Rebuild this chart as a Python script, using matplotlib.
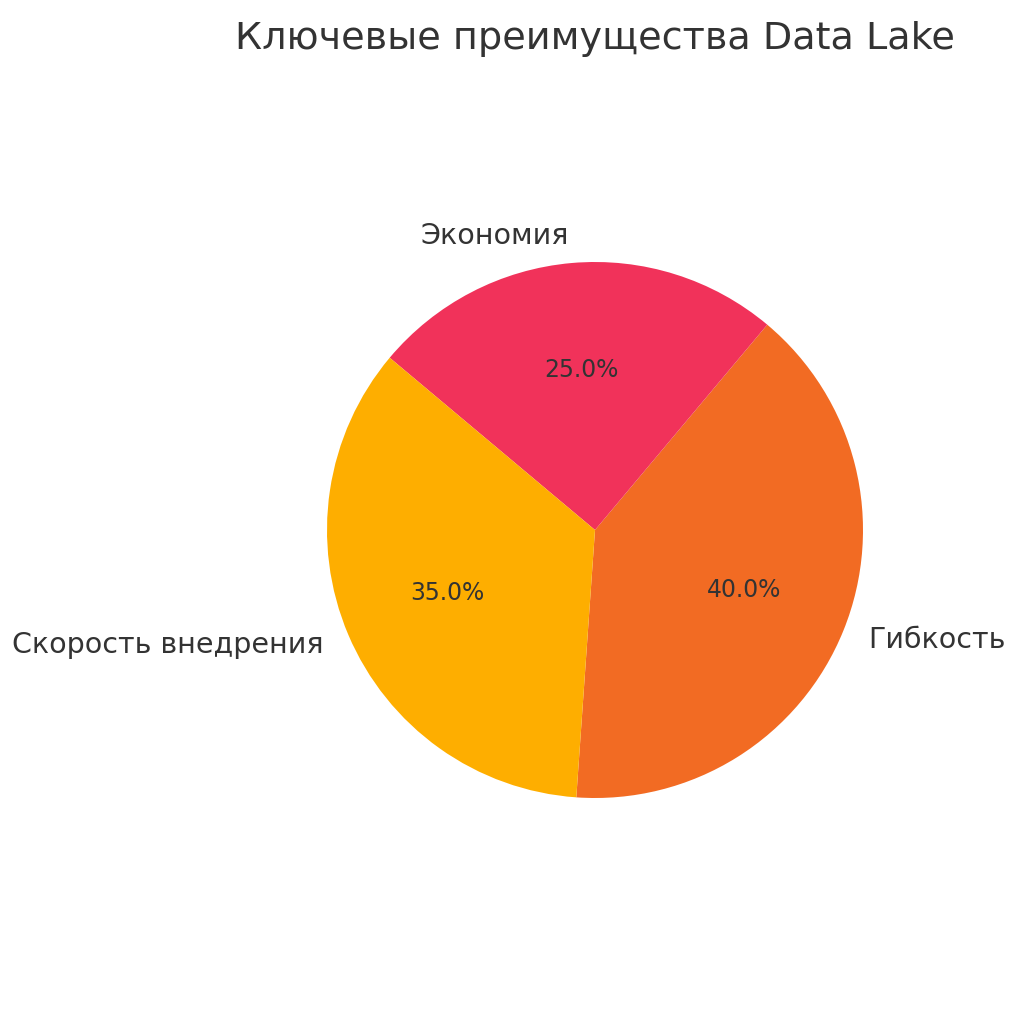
import matplotlib
matplotlib.use("Agg")
import matplotlib.pyplot as plt

labels = ['Гибкость', 'Экономия', 'Скорость внедрения']
shares = [40, 25, 35]
colors = ['#F26B23', '#F1325A', '#FEAE00']
title = 'Ключевые преимущества Data Lake'

text_color = '#333333'
plt.rcParams['font.family'] = 'DejaVu Sans'

dpi = 140
fig = plt.figure(figsize=(1024 / dpi, 1024 / dpi), dpi=dpi)

# pie centre at (595, 530) px, radius ~268 px
lim = 1.2
r_px = 268
side = 2 * lim * r_px
cx, cy = 595, 1024 - 530
ax = fig.add_axes([(cx - side / 2) / 1024, (cy - side / 2) / 1024, side / 1024, side / 1024])

wedges, texts, autotexts = ax.pie(shares, labels=labels, colors=colors, autopct='%1.1f%%',
                                  startangle=-94, counterclock=True,
                                  textprops={'color': text_color, 'fontsize': 14.7})
for t in autotexts:
    t.set_fontsize(12.1)
    t.set_color(text_color)
ax.set_xlim(-lim, lim)
ax.set_ylim(-lim, lim)
ax.set_aspect('equal')
ax.axis('off')

fig.text(cx / 1024, 1 - 49 / 1024, title, ha='center', va='baseline',
         fontsize=19.6, color=text_color)

fig.savefig('out.png', dpi=dpi, facecolor='white')
